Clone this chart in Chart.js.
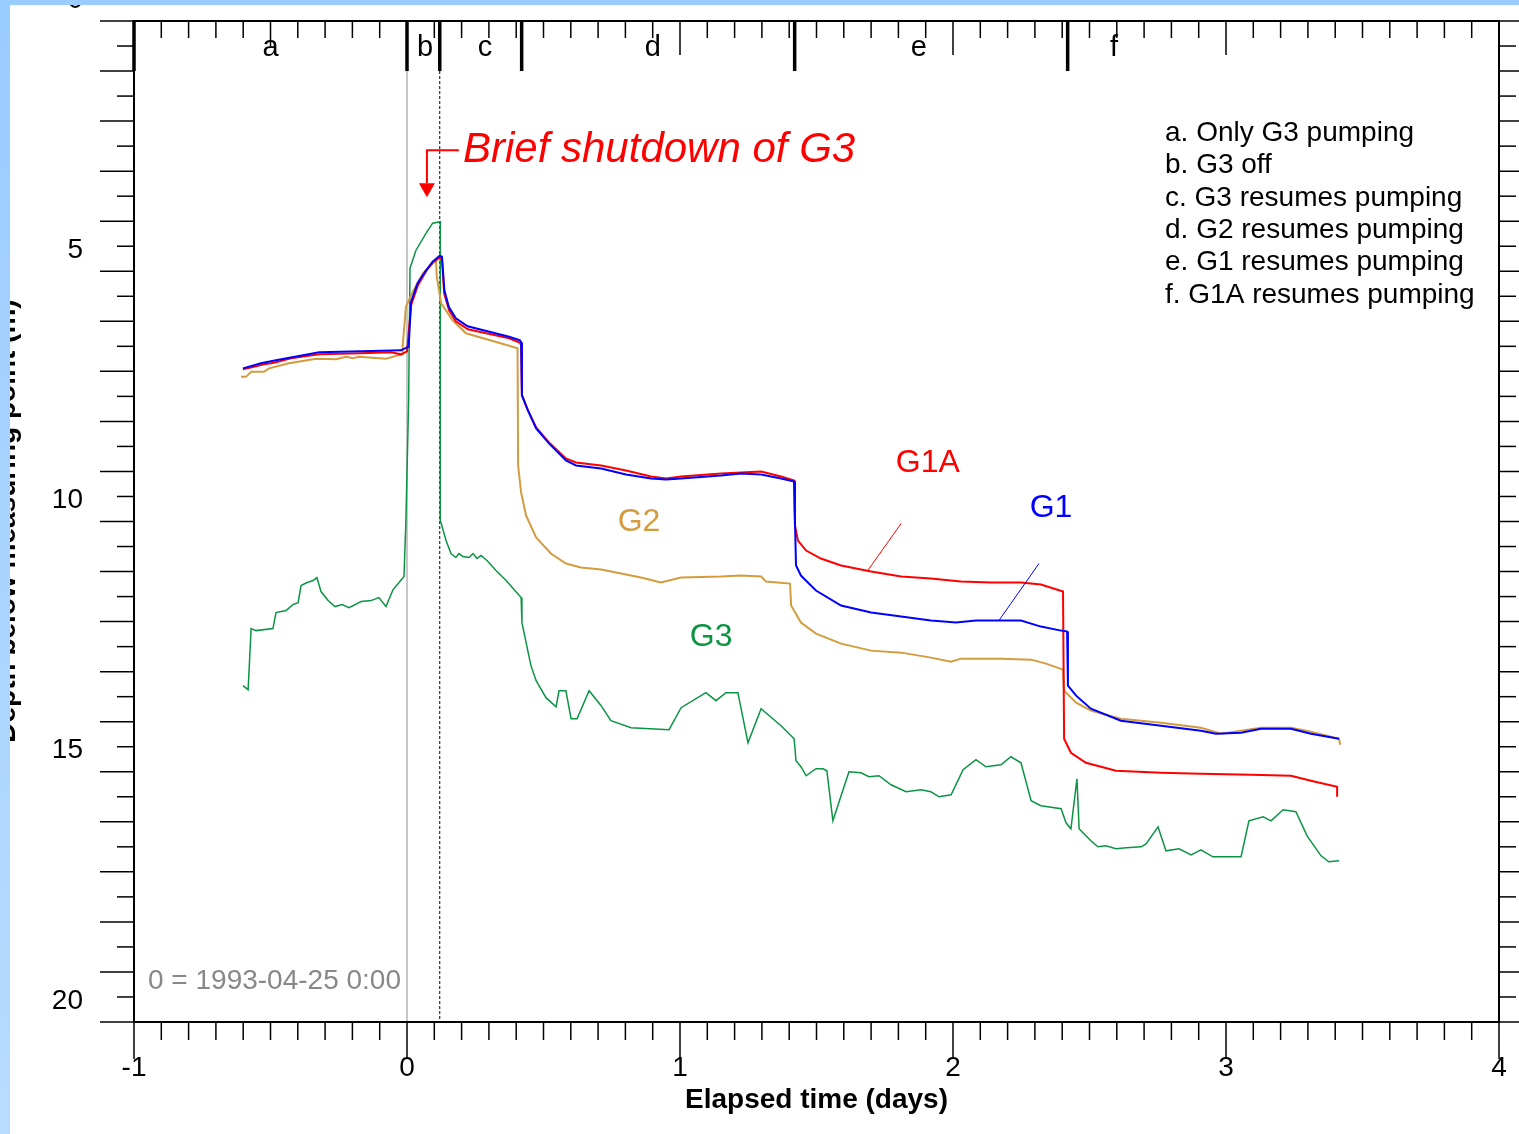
<!DOCTYPE html>
<html>
<head>
<meta charset="utf-8">
<script src="https://cdn.jsdelivr.net/npm/chart.js@4.4.1/dist/chart.umd.min.js"></script>
<style>
  html, body { margin: 0; padding: 0; background: #fff; }
  canvas { display: block; }
</style>
</head>
<body>
<canvas id="wells" width="1519" height="1134" style="width:1519px;height:1134px"></canvas>
<script>
const FONT = "'Liberation Sans', Arial, sans-serif";

// Elapsed time (days) and depth to water (m) for each well
const g1Days = [-0.601, -0.535, -0.480, -0.322, -0.168, -0.022, 0.000, 0.006, 0.015, 0.039, 0.070, 0.094, 0.120, 0.128, 0.137, 0.153, 0.179, 0.222, 0.374, 0.414, 0.418, 0.421, 0.443, 0.473, 0.520, 0.582, 0.619, 0.711, 0.802, 0.894, 0.949, 1.004, 1.150, 1.223, 1.297, 1.370, 1.418, 1.421, 1.425, 1.443, 1.498, 1.590, 1.700, 1.810, 1.919, 2.011, 2.084, 2.249, 2.322, 2.396, 2.418, 2.421, 2.451, 2.505, 2.615, 2.762, 2.908, 2.963, 3.055, 3.128, 3.238, 3.311, 3.414];
const g1Depth = [7.40, 7.30, 7.24, 7.08, 7.06, 7.04, 6.98, 6.97, 6.07, 5.70, 5.44, 5.27, 5.15, 5.17, 5.84, 6.17, 6.40, 6.56, 6.77, 6.84, 6.88, 7.94, 8.24, 8.60, 8.90, 9.24, 9.34, 9.40, 9.52, 9.60, 9.62, 9.60, 9.54, 9.50, 9.52, 9.60, 9.66, 10.44, 11.34, 11.54, 11.84, 12.14, 12.28, 12.36, 12.44, 12.48, 12.44, 12.44, 12.56, 12.64, 12.66, 13.74, 13.94, 14.20, 14.44, 14.54, 14.64, 14.70, 14.68, 14.60, 14.60, 14.70, 14.80];

const g1aDays = [-0.601, -0.553, -0.524, -0.498, -0.480, -0.425, -0.322, -0.168, -0.059, -0.022, 0.000, 0.007, 0.015, 0.040, 0.070, 0.095, 0.117, 0.128, 0.136, 0.154, 0.179, 0.223, 0.374, 0.414, 0.418, 0.421, 0.443, 0.473, 0.520, 0.582, 0.619, 0.711, 0.802, 0.894, 0.949, 1.004, 1.150, 1.223, 1.297, 1.370, 1.418, 1.421, 1.432, 1.462, 1.516, 1.590, 1.700, 1.810, 1.919, 2.029, 2.139, 2.249, 2.322, 2.403, 2.407, 2.432, 2.487, 2.597, 2.762, 2.908, 3.092, 3.238, 3.311, 3.407, 3.407];
const g1aDepth = [7.42, 7.36, 7.32, 7.30, 7.28, 7.20, 7.12, 7.10, 7.08, 7.12, 7.06, 6.64, 6.14, 5.74, 5.46, 5.28, 5.20, 5.20, 5.90, 6.24, 6.46, 6.62, 6.80, 6.89, 6.94, 7.94, 8.24, 8.58, 8.88, 9.20, 9.28, 9.34, 9.44, 9.56, 9.60, 9.56, 9.50, 9.48, 9.46, 9.56, 9.64, 10.54, 10.84, 11.04, 11.20, 11.34, 11.46, 11.56, 11.60, 11.66, 11.68, 11.68, 11.72, 11.86, 14.80, 15.08, 15.28, 15.44, 15.48, 15.50, 15.52, 15.54, 15.64, 15.76, 15.96];

const g2Days = [-0.608, -0.590, -0.571, -0.524, -0.505, -0.432, -0.333, -0.260, -0.223, -0.198, -0.176, -0.077, -0.018, -0.016, -0.004, 0.021, 0.058, 0.106, 0.109, 0.125, 0.167, 0.216, 0.387, 0.405, 0.407, 0.418, 0.436, 0.473, 0.527, 0.582, 0.637, 0.711, 0.784, 0.857, 0.930, 1.004, 1.150, 1.223, 1.297, 1.315, 1.403, 1.407, 1.443, 1.498, 1.590, 1.700, 1.810, 1.919, 1.993, 2.029, 2.176, 2.286, 2.341, 2.403, 2.407, 2.451, 2.505, 2.615, 2.762, 2.908, 2.982, 3.055, 3.128, 3.238, 3.311, 3.414, 3.418];
const g2Depth = [7.57, 7.57, 7.47, 7.47, 7.40, 7.30, 7.21, 7.22, 7.17, 7.20, 7.17, 7.21, 7.12, 6.97, 6.17, 5.87, 5.50, 5.24, 5.57, 6.10, 6.44, 6.70, 6.97, 7.00, 9.34, 9.88, 10.34, 10.78, 11.10, 11.30, 11.38, 11.42, 11.50, 11.58, 11.68, 11.58, 11.56, 11.54, 11.56, 11.66, 11.70, 12.14, 12.48, 12.70, 12.90, 13.04, 13.08, 13.18, 13.26, 13.20, 13.20, 13.22, 13.30, 13.42, 13.84, 14.08, 14.24, 14.40, 14.48, 14.58, 14.70, 14.64, 14.58, 14.58, 14.66, 14.80, 14.92];

const g3Days = [-0.601, -0.582, -0.571, -0.553, -0.491, -0.480, -0.443, -0.418, -0.399, -0.388, -0.366, -0.344, -0.330, -0.315, -0.289, -0.264, -0.238, -0.212, -0.168, -0.132, -0.103, -0.077, -0.051, -0.029, -0.011, -0.004, 0.006, 0.011, 0.033, 0.070, 0.094, 0.122, 0.122, 0.143, 0.161, 0.179, 0.190, 0.205, 0.227, 0.242, 0.256, 0.271, 0.293, 0.326, 0.363, 0.418, 0.421, 0.454, 0.473, 0.509, 0.546, 0.557, 0.582, 0.601, 0.623, 0.667, 0.711, 0.747, 0.821, 0.960, 1.004, 1.095, 1.132, 1.168, 1.212, 1.249, 1.297, 1.370, 1.418, 1.425, 1.443, 1.462, 1.498, 1.524, 1.538, 1.560, 1.590, 1.619, 1.663, 1.692, 1.729, 1.773, 1.828, 1.883, 1.919, 1.949, 1.993, 2.037, 2.084, 2.121, 2.176, 2.212, 2.249, 2.286, 2.322, 2.396, 2.414, 2.432, 2.454, 2.462, 2.476, 2.505, 2.531, 2.560, 2.597, 2.634, 2.689, 2.707, 2.751, 2.780, 2.828, 2.872, 2.908, 2.952, 3.055, 3.084, 3.136, 3.165, 3.209, 3.256, 3.297, 3.348, 3.377, 3.414];
const g3Depth = [13.74, 13.82, 12.60, 12.64, 12.60, 12.28, 12.24, 12.12, 12.08, 11.74, 11.68, 11.64, 11.58, 11.86, 12.04, 12.16, 12.12, 12.18, 12.06, 12.04, 11.98, 12.16, 11.82, 11.68, 11.56, 10.44, 8.04, 5.40, 5.04, 4.70, 4.50, 4.47, 10.44, 10.84, 11.10, 11.18, 11.10, 11.16, 11.18, 11.10, 11.20, 11.14, 11.24, 11.44, 11.64, 11.98, 12.48, 13.34, 13.64, 13.98, 14.16, 13.84, 13.84, 14.40, 14.40, 13.84, 14.14, 14.44, 14.58, 14.62, 14.18, 13.88, 14.04, 13.88, 13.88, 14.88, 14.20, 14.54, 14.80, 15.24, 15.36, 15.54, 15.40, 15.40, 15.44, 16.44, 15.94, 15.46, 15.48, 15.56, 15.54, 15.72, 15.86, 15.82, 15.86, 15.96, 15.92, 15.42, 15.22, 15.36, 15.32, 15.16, 15.28, 16.04, 16.14, 16.20, 16.48, 16.60, 15.60, 16.60, 16.68, 16.84, 16.96, 16.94, 17.00, 16.98, 16.96, 16.90, 16.56, 17.04, 17.00, 17.12, 17.02, 17.16, 17.16, 16.44, 16.36, 16.44, 16.22, 16.26, 16.74, 17.14, 17.26, 17.24];

// Pumping phases (start day of each) and their notes
const phaseStarts = [-1, 0, 0.12, 0.42, 1.42, 2.42];
const phaseLetters = ['a', 'b', 'c', 'd', 'e', 'f'];
const phaseLetterDays = [-0.5, 0.066, 0.286, 0.90, 1.875, 2.59];
const phaseNotes = [
  'a. Only G3 pumping',
  'b. G3 off',
  'c. G3 resumes pumping',
  'd. G2 resumes pumping',
  'e. G1 resumes pumping',
  'f. G1A resumes pumping'
];

const xTickLabels = [-1, 0, 1, 2, 3, 4];
const yTickLabels = [0, 5, 10, 15, 20];

function toPoints(days, depth) {
  return days.map((d, i) => ({ x: d, y: depth[i] }));
}

function seg(ctx, x1, y1, x2, y2) {
  ctx.beginPath();
  ctx.moveTo(x1, y1);
  ctx.lineTo(x2, y2);
  ctx.stroke();
}

// Axes, ticks, labels and notes are all drawn here from the chart scales
const decorations = {
  id: 'decorations',
  beforeDatasetsDraw(chart) {
    const { ctx, chartArea: area, scales: { x, y } } = chart;
    const below = y.getPixelForValue(1.46);
    ctx.save();
    ctx.lineWidth = 1.5;
    ctx.strokeStyle = '#b4b4b4';
    const x0 = x.getPixelForValue(0);
    seg(ctx, x0, below, x0, area.bottom);
    ctx.lineWidth = 1;
    ctx.strokeStyle = '#000';
    ctx.setLineDash([3, 2]);
    const xs = x.getPixelForValue(0.12);
    seg(ctx, xs, below, xs, area.bottom);
    ctx.restore();
  },
  afterDatasetsDraw(chart) {
    const { ctx, chartArea: area, scales: { x, y } } = chart;
    ctx.save();
    ctx.strokeStyle = '#000';
    ctx.lineWidth = 2;
    ctx.strokeRect(area.left, area.top, area.right - area.left, area.bottom - area.top);

    // depth ticks on both sides
    ctx.lineWidth = 1.5;
    for (let k = 0; k <= 40; k++) {
      const py = y.getPixelForValue(0.46 + k * 0.5);
      const len = k % 2 === 0 ? 34 : 17;
      seg(ctx, area.left - len, py, area.left, py);
      seg(ctx, area.right, py, area.right + len, py);
    }
    // time ticks every 0.1 day, bottom outside and top inside
    for (let i = -10; i <= 40; i++) {
      const px = x.getPixelForValue(i / 10);
      seg(ctx, px, area.bottom, px, area.bottom + (i % 10 === 0 ? 37 : 18));
      const topLen = i % 10 === 0 ? 34 : (i === -5 ? 27 : 17);
      seg(ctx, px, area.top, px, area.top + topLen);
    }
    // phase boundaries
    ctx.lineWidth = 3.5;
    const below = y.getPixelForValue(1.46);
    phaseStarts.forEach(d => {
      const px = x.getPixelForValue(d);
      seg(ctx, px, area.top, px, below);
    });

    ctx.fillStyle = '#000';
    ctx.font = `29px ${FONT}`;
    ctx.textAlign = 'center';
    ctx.textBaseline = 'middle';
    phaseLetters.forEach((t, i) => ctx.fillText(t, x.getPixelForValue(phaseLetterDays[i]), 48));

    // tick labels
    ctx.font = `28px ${FONT}`;
    xTickLabels.forEach(v => ctx.fillText(String(v), x.getPixelForValue(v), 1068));
    ctx.textAlign = 'right';
    yTickLabels.forEach(v => ctx.fillText(String(v), 83, y.getPixelForValue(v) + 2));

    ctx.textAlign = 'center';
    ctx.font = `bold 28px ${FONT}`;
    ctx.fillText('Elapsed time (days)', x.getPixelForValue(1.5), 1100);

    ctx.save();
    ctx.translate(15, y.getPixelForValue(10.45));
    ctx.rotate(-Math.PI / 2);
    ctx.textBaseline = 'alphabetic';
    ctx.font = `bold 28px ${FONT}`;
    ctx.fillText('Depth below measuring point (m)', 0, 0);
    ctx.restore();

    // phase notes
    ctx.textAlign = 'left';
    ctx.font = `28px ${FONT}`;
    phaseNotes.forEach((t, i) => ctx.fillText(t, 1165, 133 + i * 32.4));

    ctx.fillStyle = '#888';
    ctx.fillText('0 = 1993-04-25 0:00', 148, 981);

    // shutdown callout
    ctx.strokeStyle = '#ff0000';
    ctx.fillStyle = '#ff0000';
    ctx.lineWidth = 2;
    const ax = x.getPixelForValue(0.073);
    ctx.beginPath();
    ctx.moveTo(x.getPixelForValue(0.19), y.getPixelForValue(3.04));
    ctx.lineTo(ax, y.getPixelForValue(3.04));
    ctx.lineTo(ax, y.getPixelForValue(3.7));
    ctx.stroke();
    ctx.beginPath();
    ctx.moveTo(ax - 8, y.getPixelForValue(3.7));
    ctx.lineTo(ax + 8, y.getPixelForValue(3.7));
    ctx.lineTo(ax, y.getPixelForValue(3.98));
    ctx.closePath();
    ctx.fill();
    ctx.font = `italic 42px ${FONT}`;
    ctx.fillText('Brief shutdown of G3', x.getPixelForValue(0.205), y.getPixelForValue(3.04));

    // well labels and leaders
    ctx.font = `32px ${FONT}`;
    ctx.textAlign = 'center';
    ctx.fillText('G1A', x.getPixelForValue(1.908), y.getPixelForValue(9.30));
    ctx.lineWidth = 1;
    seg(ctx, x.getPixelForValue(1.810), y.getPixelForValue(10.5), x.getPixelForValue(1.685), y.getPixelForValue(11.46));
    ctx.fillStyle = '#0000ff';
    ctx.strokeStyle = '#0000ff';
    ctx.fillText('G1', x.getPixelForValue(2.359), y.getPixelForValue(10.2));
    seg(ctx, x.getPixelForValue(2.315), y.getPixelForValue(11.3), x.getPixelForValue(2.168), y.getPixelForValue(12.44));
    ctx.fillStyle = '#d39c3f';
    ctx.fillText('G2', x.getPixelForValue(0.850), y.getPixelForValue(10.48));
    ctx.fillStyle = '#0b9444';
    ctx.fillText('G3', x.getPixelForValue(1.114), y.getPixelForValue(12.78));

    // window frame
    const h = chart.height;
    const grad = ctx.createLinearGradient(0, 0, 0, h);
    grad.addColorStop(0, '#99ccff');
    grad.addColorStop(1, '#b8dcff');
    ctx.fillStyle = grad;
    ctx.fillRect(0, 0, 10, h);
    ctx.fillStyle = '#99ccff';
    ctx.fillRect(0, 0, chart.width, 5);
    ctx.restore();
  }
};

const ctx = document.getElementById('wells').getContext('2d');
new Chart(ctx, {
  type: 'line',
  data: {
    datasets: [
      { label: 'G1', data: toPoints(g1Days, g1Depth), borderColor: '#0000ff', borderWidth: 2 },
      { label: 'G1A', data: toPoints(g1aDays, g1aDepth), borderColor: '#ff0000', borderWidth: 2 },
      { label: 'G2', data: toPoints(g2Days, g2Depth), borderColor: '#d39c3f', borderWidth: 2 },
      { label: 'G3', data: toPoints(g3Days, g3Depth), borderColor: '#0b9444', borderWidth: 1.5 }
    ]
  },
  options: {
    responsive: false,
    animation: false,
    devicePixelRatio: 1,
    layout: { padding: { left: 134, top: 21, right: 20, bottom: 112 } },
    elements: { point: { radius: 0 }, line: { tension: 0, fill: false } },
    scales: {
      x: { type: 'linear', min: -1, max: 4, display: false },
      y: { type: 'linear', min: 0.46, max: 20.46, reverse: true, display: false }
    },
    plugins: { legend: { display: false }, tooltip: { enabled: false } }
  },
  plugins: [decorations]
});
</script>
</body>
</html>
